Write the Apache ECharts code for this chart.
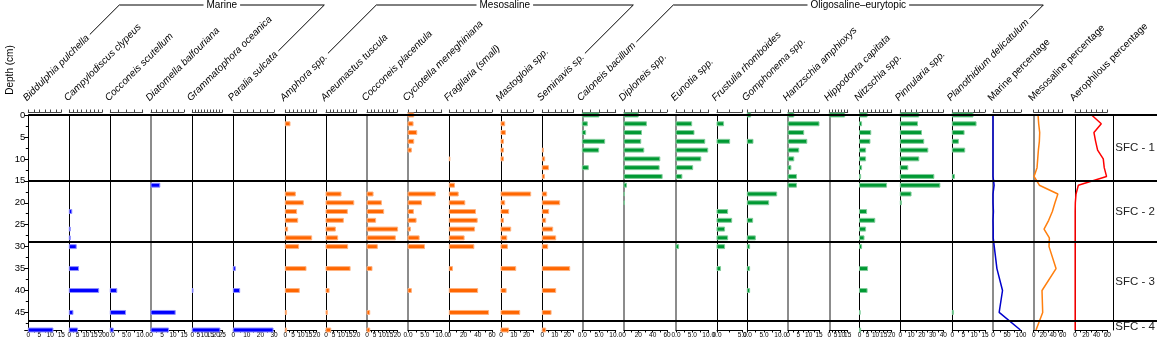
<!DOCTYPE html>
<html>
<head>
<meta charset="utf-8">
<script src="https://cdn.jsdelivr.net/npm/echarts@6/dist/echarts.min.js"></script>
<style>
  html, body { margin: 0; background: #fff; }
  #chart { width: 1157px; height: 345px; }
</style>
</head>
<body>
<div id="chart"></div>
<script>
// sample depths (cm)
const depths = [0, 2, 4, 6, 8, 10, 12, 14, 16, 18, 20, 22, 24, 26, 28, 30, 35, 40, 45, 49];

// marine taxa (%)
const biddulphia    = [0, 0, 0, 0, 0, 0, 0, 0, 0, 0, 0, 0, 0, 0, 0, 0, 0, 0, 0, 11.2];
const campylodiscus = [0, 0, 0, 0, 0, 0, 0, 0, 0, 0, 0, 1.5, 0, 0.6, 0.6, 4.2, 5.6, 17.8, 2.2, 5.0];
const cocconeisScut = [0, 0, 0, 0, 0, 0, 0, 0, 0, 0, 0, 0, 0, 0, 0, 0, 0, 2.0, 4.7, 0.9];
const diatomella    = [0, 0, 0, 0, 0, 0, 0, 0, 4.0, 0, 0, 0, 0, 0, 0, 0, 0, 0, 11.0, 8.0];
const grammatophora = [0, 0, 0, 0, 0, 0, 0, 0, 0, 0, 0, 0, 0, 0, 0, 0, 0, 0.6, 0, 23.0];
const paralia       = [0, 0, 0, 0, 0, 0, 0, 0, 0, 0, 0, 0, 0, 0, 0, 0, 1.5, 4.7, 0, 29.3];

// mesosaline taxa (%)
const amphora       = [0, 3.0, 0, 0, 0, 0, 0, 0, 0, 6.4, 11.5, 7.2, 7.9, 1.5, 16.8, 8.5, 13.2, 8.9, 0.8, 0.8];
const aneumastus    = [0, 0, 0, 0, 0, 0, 0, 0, 0, 9.8, 18.1, 13.9, 11.3, 6.1, 7.6, 14.1, 15.7, 2.0, 0.9, 3.1];
const cocconeisPlac = [0, 0, 0, 0, 0, 0, 0, 0, 0, 4.0, 9.5, 11.0, 5.7, 20.2, 18.7, 6.8, 3.3, 0, 1.8, 1.8];
const cyclotella    = [1.7, 1.5, 2.6, 1.7, 1.0, 0, 0, 0, 0, 8.1, 4.0, 1.6, 2.4, 0.7, 3.3, 4.9, 0, 1.0, 0, 0];
const fragilaria    = [0, 0, 0, 0, 0, 0.8, 0, 0, 7.3, 12.5, 21.8, 36.8, 39.2, 35.5, 20.8, 34.5, 4.5, 39.8, 55.2, 0];
const mastogloia    = [0, 2.9, 3.4, 1.9, 1.9, 1.9, 0, 0, 0, 23.2, 2.9, 6.0, 1.9, 7.6, 4.5, 5.0, 11.5, 4.0, 14.6, 6.0];
const seminavis     = [0, 0, 0, 0, 0.9, 1.9, 4.9, 1.7, 0, 3.5, 13.9, 5.1, 2.7, 8.3, 10.7, 4.3, 21.9, 10.7, 7.0, 2.7];

// oligosaline-eurytopic taxa (%)
const caloneis      = [5.0, 1.5, 1.0, 6.7, 4.9, 0, 1.8, 0, 0, 0, 0, 0, 0, 0, 0, 0, 0, 0, 0, 0];
const diploneis     = [19.8, 31.3, 24.4, 23.4, 27.6, 50.0, 49.0, 53.2, 3.5, 0.6, 0.6, 0, 0, 0, 0, 0, 0, 0, 0, 0];
const eunotia       = [0, 4.8, 5.5, 8.8, 9.7, 7.6, 5.1, 1.8, 0, 0, 0, 0, 0, 0, 0, 0.8, 0, 0, 0, 0];
const frustulia     = [0, 1.3, 0, 2.5, 0, 0, 0, 0, 0, 0, 0, 2.1, 2.9, 1.5, 2.1, 1.5, 0.7, 0, 0, 0];
const gomphonema    = [1.0, 0, 0, 1.7, 0, 0, 0, 0, 0, 8.8, 6.4, 0, 1.6, 0, 2.4, 0.7, 0.7, 0.7, 0, 0];
const hantzschia    = [2.8, 15.0, 7.6, 9.1, 5.2, 2.8, 1.4, 4.1, 4.1, 0, 0, 0, 0, 0, 0, 0, 0, 0, 0, 0];
const hippodonta    = [12.5, 0, 0, 0, 0, 0, 0, 0, 0, 0, 0, 0, 0, 0, 0, 0, 0, 0, 0, 0];
const nitzschia     = [4.7, 1.3, 7.0, 6.5, 3.8, 3.8, 1.3, 0.7, 16.8, 0, 0, 4.4, 9.5, 3.8, 2.8, 1.3, 5.0, 4.7, 0.4, 0.7];
const pinnularia    = [17.2, 16.0, 19.7, 21.8, 25.6, 17.2, 7.0, 31.2, 36.8, 10.0, 1.0, 0, 0, 0, 0, 0, 0, 0, 0, 0];
const planothidium  = [9.5, 10.9, 5.4, 2.8, 5.7, 0, 0, 1.0, 0, 0, 0, 0, 0, 0, 0, 0, 0, 0, 0.5, 0];

// ecological group sums (%)
const marinePct = [0, 0, 0, 0, 0, 0, 0, 0, 4.0, 0, 0, 1.5, 0, 0.7, 0.7, 4.5, 14.0, 34.0, 22.0, 98.0];
const mesoPct   = [9.0, 10.3, 12.4, 11.7, 9.7, 8.3, 6.9, 0.7, 11.7, 50.0, 44.0, 38.6, 31.0, 21.4, 32.4, 31.7, 46.2, 17.2, 18.6, 4.8];
const aeroPct   = [30.9, 48.8, 35.2, 38.3, 42.0, 52.5, 54.3, 58.6, 6.2, 1.9, 0.6, 0.3, 0.3, 0.3, 0.3, 0.3, 0.3, 0.3, 0.3, 0.3];

// zones
const zoneNames = ['SFC - 1', 'SFC - 2', 'SFC - 3', 'SFC - 4'];
const zoneBounds = [0, 15, 29, 47, 49.7];

const COLORS = {
  marine: ['#0000ff', '#8f8fff'],
  meso:   ['#ff6600', '#ffb27f'],
  oligo:  ['#009933', '#7fcc99']
};

const panels = [
  { name: 'Biddulphia pulchella',     values: biddulphia,    kind: 'marine', max: 15,  step: 5 },
  { name: 'Campylodiscus clypeus',    values: campylodiscus, kind: 'marine', max: 20,  step: 5 },
  { name: 'Cocconeis scutellum',      values: cocconeisScut, kind: 'marine', max: 10,  step: 5, dec: 1 },
  { name: 'Diatomella balfouriana',   values: diatomella,    kind: 'marine', max: 15,  step: 5, gray: true },
  { name: 'Grammatophora oceanica',   values: grammatophora, kind: 'marine', max: 25,  step: 5 },
  { name: 'Paralia sulcata',          values: paralia,       kind: 'marine', max: 30,  step: 10 },
  { name: 'Amphora spp.',             values: amphora,       kind: 'meso',   max: 20,  step: 5 },
  { name: 'Aneumastus tuscula',       values: aneumastus,    kind: 'meso',   max: 20,  step: 5 },
  { name: 'Cocconeis placentula',     values: cocconeisPlac, kind: 'meso',   max: 20,  step: 5, gray: true },
  { name: 'Cyclotella meneghiniana',  values: cyclotella,    kind: 'meso',   max: 10,  step: 5, dec: 1, gray: true },
  { name: 'Fragilaria (small)',       values: fragilaria,    kind: 'meso',   max: 60,  step: 20 },
  { name: 'Mastogloia spp.',          values: mastogloia,    kind: 'meso',   max: 25,  step: 10 },
  { name: 'Seminavis sp.',            values: seminavis,     kind: 'meso',   max: 25,  step: 10 },
  { name: 'Caloneis bacillum',        values: caloneis,      kind: 'oligo',  max: 10,  step: 5, dec: 1, gray: true },
  { name: 'Diploneis spp.',           values: diploneis,     kind: 'oligo',  max: 60,  step: 20, gray: true },
  { name: 'Eunotia spp.',             values: eunotia,       kind: 'oligo',  max: 10,  step: 5, dec: 1, gray: true },
  { name: 'Frustulia rhomboides',     values: frustulia,     kind: 'oligo',  max: 5,   step: 5, dec: 1 },
  { name: 'Gomphonema spp.',          values: gomphonema,    kind: 'oligo',  max: 10,  step: 5, dec: 1 },
  { name: 'Hantzschia amphioxys',     values: hantzschia,    kind: 'oligo',  max: 15,  step: 5, gray: true },
  { name: 'Hippodonta capitata',      values: hippodonta,    kind: 'oligo',  max: 15,  step: 5, gray: true },
  { name: 'Nitzschia spp.',           values: nitzschia,     kind: 'oligo',  max: 20,  step: 5 },
  { name: 'Pinnularia spp.',          values: pinnularia,    kind: 'oligo',  max: 40,  step: 10 },
  { name: 'Planothidium delicatulum', values: planothidium,  kind: 'oligo',  max: 15,  step: 5 },
  { name: 'Marine percentage',        values: marinePct,     line: '#0000cc', max: 100, step: 50, gray: true },
  { name: 'Mesosaline percentage',    values: mesoPct,       line: '#ff7f0e', max: 60,  step: 20, gray: true },
  { name: 'Aerophilous percentage',   values: aeroPct,       line: '#ff0000', max: 60,  step: 20 }
];

// layout of the strips (px)
const panelLeft  = [28.3, 69.3, 110.3, 151, 192.3, 233.3, 285.3, 326, 367, 408, 449.3, 501, 542.3,
                    582.3, 624, 676, 717, 747.3, 788, 829.3, 859.5, 900.3, 952.3, 993, 1033.7, 1075];
const panelWidth = [33, 33, 32.4, 33, 30, 40.7, 31.4, 30.7, 30.3, 33.7, 42.7, 32, 31.3,
                    33.4, 43, 32.7, 25.3, 33.4, 31, 18.4, 32.2, 43, 32.7, 28, 29, 32.3];
const groups = [
  { name: 'Marine', first: 0, last: 5 },
  { name: 'Mesosaline', first: 6, last: 12 },
  { name: 'Oligosaline\u2013eurytopic', first: 13, last: 22 }
];

const TOP = 115, PLOT_H = 215, DEPTH_MAX = 49, ZONE_LEFT = 1113.3;
const FONT = '"Liberation Sans", Arial, sans-serif';
const HEAD_SIZE = 10;

const grids = [], xAxes = [], yAxes = [], series = [], graphics = [];

function makeBar(color, halo) {
  return function (params, api) {
    const v = api.value(0);
    if (!(v > 0)) return null;
    const p0 = api.coord([0, api.value(1)]);
    const p1 = api.coord([v, api.value(1)]);
    const h = api.size([0, 0.9])[1];
    return {
      type: 'rect',
      shape: { x: p0[0], y: p0[1] - h / 2, width: p1[0] - p0[0], height: h },
      style: { fill: color, stroke: halo, lineWidth: 1 }
    };
  };
}

panels.forEach((p, i) => {
  grids.push({ left: panelLeft[i], top: TOP, width: panelWidth[i], height: PLOT_H });
  const fmt = v => (Math.abs(v / p.step - Math.round(v / p.step)) < 1e-6
    ? (p.dec ? v.toFixed(1) : String(v)) : '');
  xAxes.push({
    type: 'value', gridIndex: i, position: 'bottom', min: 0, max: p.max, interval: p.step / 2,
    axisLine: { show: true, onZero: false, lineStyle: { color: '#000', width: 1 } },
    axisTick: { show: true, length: 2.5, lineStyle: { color: '#000' } },
    axisLabel: { show: true, formatter: fmt, fontSize: 6.5, margin: 2, color: '#000', fontFamily: FONT,
                 showMinLabel: true, showMaxLabel: true },
    splitLine: { show: false }
  });
  xAxes.push({
    type: 'value', gridIndex: i, position: 'top', offset: 3, min: 0, max: p.max, interval: p.step / 2,
    axisLine: { show: true, onZero: false, lineStyle: { color: '#444', width: 1 } },
    axisTick: { show: true, length: 2.5, lineStyle: { color: '#444' } },
    axisLabel: { show: false },
    splitLine: { show: false }
  });
  const first = i === 0;
  yAxes.push({
    type: 'value', gridIndex: i, inverse: true, min: 0, max: DEPTH_MAX, interval: 5,
    axisLine: { show: true, onZero: false, lineStyle: { color: first ? '#000' : (p.gray ? '#8c8c8c' : '#000'), width: p.gray && !first ? 2 : 1 } },
    axisTick: { show: first, length: 4, lineStyle: { color: '#000' } },
    minorTick: { show: first, splitNumber: 2, length: 2.5, lineStyle: { color: '#000' } },
    axisLabel: { show: first, fontSize: 9.5, color: '#000', margin: 3, fontFamily: FONT, showMaxLabel: false },
    splitLine: { show: false }
  });
  const data = depths.map((d, k) => [p.values[k], d]);
  if (p.line) {
    series.push({
      type: 'line', xAxisIndex: 2 * i, yAxisIndex: i, data, symbol: 'none', clip: false, z: 3,
      lineStyle: { color: p.line, width: 1.5 }, silent: true
    });
  } else {
    const c = COLORS[p.kind];
    series.push({
      type: 'custom', xAxisIndex: 2 * i, yAxisIndex: i, data, clip: false, silent: true, z: 3,
      renderItem: makeBar(c[0], c[1])
    });
  }
});

// full-width grid for the zone boundary lines
const gZone = grids.length;
grids.push({ left: panelLeft[0], right: 0, top: TOP, height: PLOT_H });
xAxes.push({ type: 'value', gridIndex: gZone, min: 0, max: 1, show: false });
yAxes.push({ type: 'value', gridIndex: gZone, inverse: true, min: 0, max: DEPTH_MAX, show: false });
series.push({
  type: 'line', xAxisIndex: xAxes.length - 1, yAxisIndex: yAxes.length - 1, data: [], silent: true, z: 1,
  markLine: {
    symbol: 'none', silent: true, label: { show: false },
    lineStyle: { color: '#000', width: 2.2, type: 'solid' },
    data: zoneBounds.slice(0, 4).map(b => ({ yAxis: b }))
  }
});

// zone label column
const gLab = grids.length;
grids.push({ left: ZONE_LEFT, right: 0, top: TOP, height: PLOT_H });
xAxes.push({ type: 'value', gridIndex: gLab, min: 0, max: 1, show: false });
yAxes.push({
  type: 'value', gridIndex: gLab, inverse: true, min: 0, max: DEPTH_MAX,
  axisLine: { show: true, lineStyle: { color: '#000', width: 1 } },
  axisTick: { show: false }, axisLabel: { show: false }, splitLine: { show: false }
});
series.push({
  type: 'custom', xAxisIndex: xAxes.length - 1, yAxisIndex: yAxes.length - 1, clip: false, silent: true,
  data: zoneNames.map((n, k) => [0.5, (zoneBounds[k] + zoneBounds[k + 1]) / 2, n]),
  renderItem: (params, api) => {
    const pt = api.coord([api.value(0), api.value(1)]);
    return {
      type: 'text', x: pt[0], y: pt[1],
      style: { text: zoneNames[params.dataIndex], textAlign: 'center', textVerticalAlign: 'middle',
               fontSize: 11.5, fontFamily: FONT, fill: '#222' }
    };
  }
});

// rotated headers and group brackets
const SQ = Math.SQRT1_2;
const ctx = document.createElement('canvas').getContext('2d');
function measure(str, italic, size) {
  ctx.font = (italic ? 'italic ' : '') + size + 'px "Liberation Sans"';
  return ctx.measureText(str).width;
}
const anchors = panels.map((p, i) => {
  const ax = panelLeft[i] - 3.5, ay = 99.5;
  const italic = !p.line;
  graphics.push({
    type: 'text', x: ax, y: ay, rotation: Math.PI / 4, silent: true,
    style: { text: p.name, textAlign: 'left', textVerticalAlign: 'middle', fontSize: HEAD_SIZE,
             fontStyle: italic ? 'italic' : 'normal', fontFamily: FONT, fill: '#000' }
  });
  return { ax, ay, w: measure(p.name, italic, HEAD_SIZE) };
});
const LINE_Y = 5;
groups.forEach(g => {
  const a = anchors[g.first], b = anchors[g.last];
  const s1 = [a.ax + (a.w + 3) * SQ, a.ay - (a.w + 3) * SQ];
  const t1 = [a.ax + (a.ay - LINE_Y), LINE_Y];
  const s2 = [b.ax + (b.w + 3) * SQ, b.ay - (b.w + 3) * SQ];
  const t2 = [b.ax + (b.ay - LINE_Y), LINE_Y];
  graphics.push({
    type: 'polyline', silent: true,
    shape: { points: [s1, t1, t2, s2] },
    style: { stroke: '#000', lineWidth: 1, fill: null }
  });
  graphics.push({
    type: 'text', x: (t1[0] + t2[0]) / 2, y: LINE_Y, silent: true, z: 10,
    style: { text: g.name, textAlign: 'center', textVerticalAlign: 'middle', fontSize: 10,
             fontFamily: FONT, fill: '#000', backgroundColor: '#fff', padding: [0, 3] }
  });
});
graphics.push({
  type: 'text', x: 10, y: 70, rotation: Math.PI / 2, silent: true,
  style: { text: 'Depth (cm)', textAlign: 'center', textVerticalAlign: 'middle', fontSize: 10,
           fontFamily: FONT, fill: '#000' }
});

const chart = echarts.init(document.getElementById('chart'));
chart.setOption({
  animation: false,
  backgroundColor: '#fff',
  grid: grids,
  xAxis: xAxes,
  yAxis: yAxes,
  series: series,
  graphic: { elements: graphics }
});
</script>
</body>
</html>
